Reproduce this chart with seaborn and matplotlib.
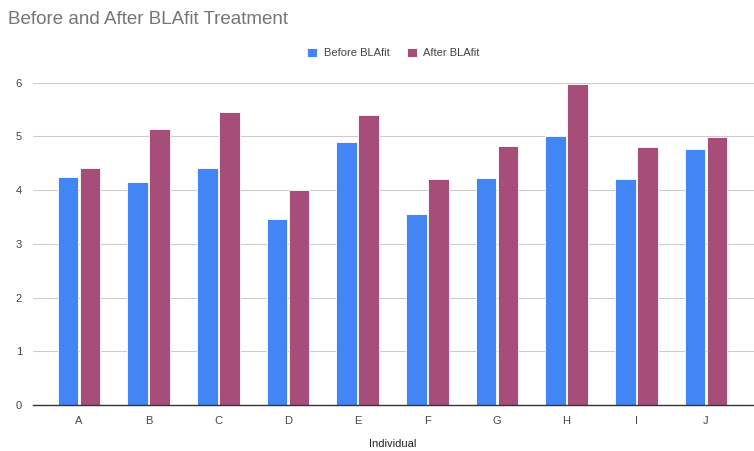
import pandas as pd
import matplotlib.pyplot as plt
import seaborn as sns

# values
individuals = ['A', 'B', 'C', 'D', 'E', 'F', 'G', 'H', 'I', 'J']
before = [4.25, 4.15, 4.42, 3.46, 4.90, 3.56, 4.23, 5.01, 4.20, 4.77]
after = [4.42, 5.14, 5.45, 4.00, 5.40, 4.20, 4.83, 5.97, 4.81, 4.98]

data = pd.DataFrame({
    'Individual': individuals * 2,
    'Value': before + after,
    'Group': ['Before BLAfit'] * len(before) + ['After BLAfit'] * len(after),
})

sns.set_style('white')
plt.rcParams['font.family'] = ['Liberation Sans', 'DejaVu Sans']

fig = plt.figure(figsize=(7.54, 4.51), dpi=100)
W, H = 754, 451
ax = fig.add_axes([33 / W, (H - 405) / H, 721 / W, (405 - 82.7) / H])

sns.barplot(data=data, x='Individual', y='Value', hue='Group',
            palette=['#4285F4', '#A64D79'], saturation=1, width=0.63, gap=0.06,
            edgecolor='white', linewidth=0.6, ax=ax)

ax.set_xlim(-0.66, 9.69)
ax.set_ylim(0, 6)
ax.set_yticks(range(7))
ax.yaxis.grid(True, color='#cccccc', linewidth=0.8)
ax.set_axisbelow(True)
for s in ['top', 'right', 'left']:
    ax.spines[s].set_visible(False)
ax.spines['bottom'].set_color('#333333')
ax.spines['bottom'].set_linewidth(1.0)
ax.tick_params(axis='both', length=0, labelsize=8, colors='#444444')
ax.tick_params(axis='y', pad=8)
ax.tick_params(axis='x', pad=8)

ax.set_xlabel('')
ax.set_ylabel('')
fig.text(393 / W, 1 - 444 / H, 'Individual', fontsize=8, color='#222222',
         ha='center', va='center')

fig.text(8 / W, 1 - 19 / H, 'Before and After BLAfit Treatment', fontsize=13.5,
         color='#757575', va='center', ha='left')

ax.legend(loc='center', bbox_to_anchor=(0.5, (405 - 53) / (405 - 82.7)),
          ncol=2, frameon=False, fontsize=8, handlelength=0.9,
          handleheight=0.9, columnspacing=1.5, handletextpad=0.6,
          labelcolor='#444444')

fig.savefig('out.png', dpi=100)
